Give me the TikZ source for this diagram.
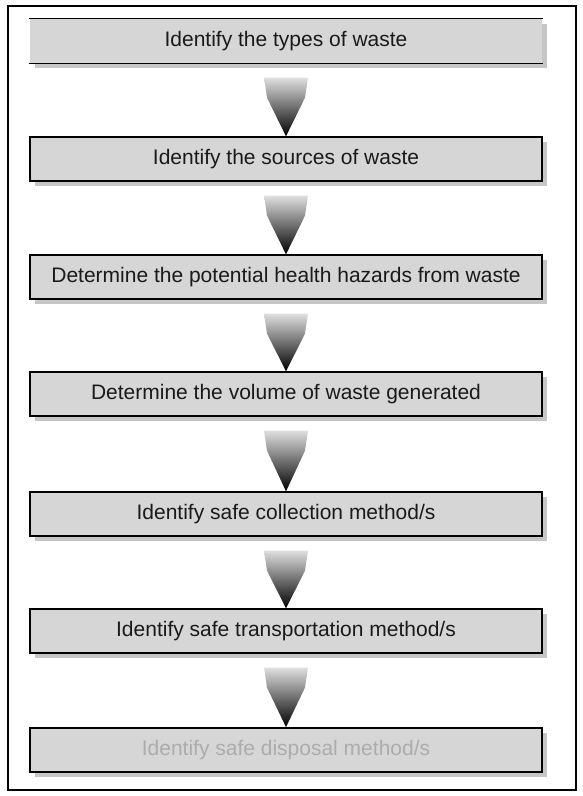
\documentclass[tikz,border=0pt]{standalone}
\usepackage{fontspec}
\setmainfont{Liberation Sans}
\usetikzlibrary{calc,shadows}
\definecolor{boxgray}{HTML}{D6D6D6}
\definecolor{inkgray}{HTML}{1A1A1A}

\begin{document}
\begin{tikzpicture}[x=1pt,y=-1pt,
      stepbox/.style={draw=black,line width=1.3pt,fill=boxgray,
                 minimum width=512pt,minimum height=44pt,inner sep=0pt,
                 font=\fontsize{21}{25}\selectfont,text=inkgray,
                 drop shadow={shadow xshift=5pt,shadow yshift=-5pt,
                              opacity=0.45,fill=gray}},
      flow/.style={top color=gray!25,bottom color=black}]
    \useasboundingbox (0,0) rectangle (582,796);
    \draw[line width=1.3pt] (8,6) rectangle (576,790);
    % steps
    \node[stepbox,draw=none] (s1) at (286,41) {Identify the types of waste};
    \draw[line width=1.3pt] (s1.north west) -- (s1.north east)
                          (s1.south west) -- (s1.south east);
    \node[stepbox] (s2) at (286,159) {Identify the sources of waste};
    \node[stepbox] (s3) at (286,277) {Determine the potential health hazards from waste};
    \node[stepbox] (s4) at (286,394) {Determine the volume of waste generated};
    \node[stepbox] (s5) at (286,514) {Identify safe collection method/s};
    \node[stepbox] (s6) at (286,631) {Identify safe transportation method/s};
    \node[stepbox,line width=1.8pt,text=gray!65] (s7) at (286,750)
      {Identify safe disposal method/s};
    % arrows between steps
    \foreach \a/\b in {s1/s2,s2/s3,s3/s4,s4/s5,s5/s6,s6/s7} {
      \shade[flow] ($(\a.south)+(-22,14)$) -- ($(\a.south)+(22,14)$)
        -- ($(\a.south)+(19,34)$) -- (\b.north)
        -- ($(\a.south)+(-19,34)$) -- cycle;}
  \end{tikzpicture}
\end{document}
